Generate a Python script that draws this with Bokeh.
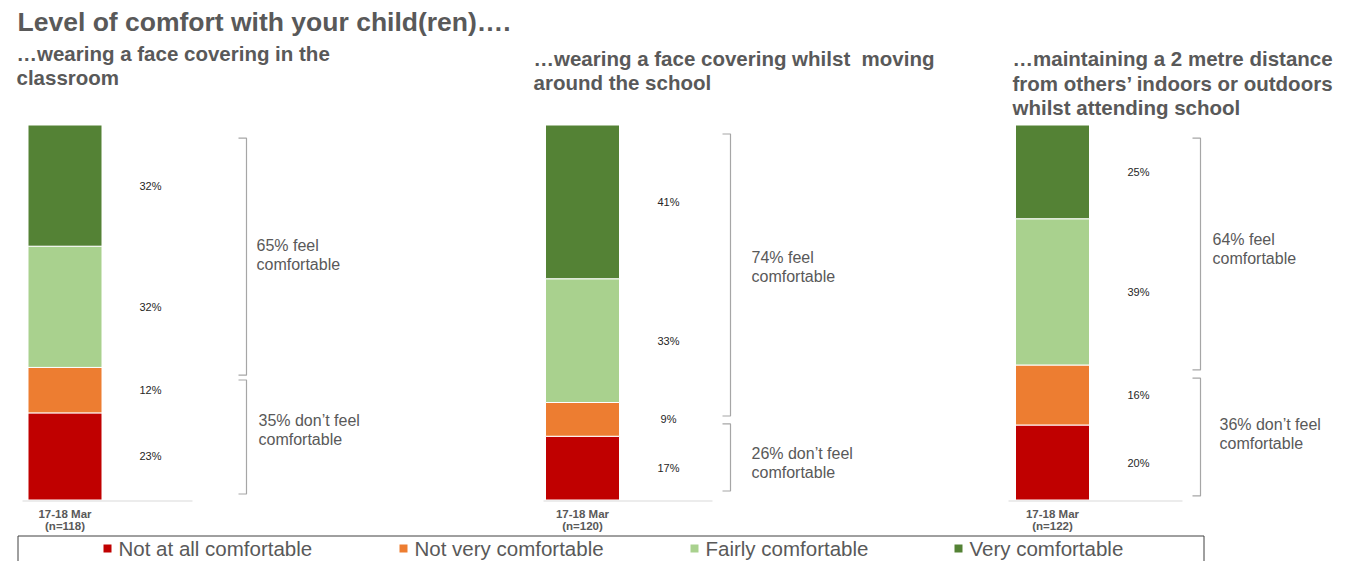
from bokeh.plotting import figure
from bokeh.models import ColumnDataSource, Range1d
from bokeh.core.properties import value
from bokeh.embed import file_html
from bokeh.resources import INLINE

# ---------------- data ----------------
title = "Level of comfort with your child(ren)…."
categories = ["Not at all comfortable", "Not very comfortable",
              "Fairly comfortable", "Very comfortable"]
panel_titles = [
    ["…wearing a face covering in the", "classroom"],
    ["…wearing a face covering whilst\u00a0 moving", "around the school"],
    ["…maintaining a 2 metre distance", "from others’ indoors or outdoors",
     "whilst attending school"],
]
not_at_all = [23, 17, 20]
not_very = [12, 9, 16]
fairly = [32, 33, 39]
very = [32, 41, 25]
wave_label = "17-18 Mar"
base_labels = ["(n=118)", "(n=120)", "(n=122)"]
comfortable_text = [["65% feel", "comfortable"], ["74% feel", "comfortable"],
                    ["64% feel", "comfortable"]]
uncomfortable_text = [["35% don’t feel", "comfortable"], ["26% don’t feel", "comfortable"],
                      ["36% don’t feel", "comfortable"]]

# ---------------- styles / layout ----------------
colors = ["#C00000", "#ED7D31", "#A9D18E", "#548235"]
GREY = "#595959"
FONT = "Liberation Sans"
PX = 3.75          # pixels per percentage point
BASE = 499.5       # pixel y of the bar baseline (from top)


def Y(img_y):
    return (BASE - img_y) / PX


bar_x = [64.5, 582, 1052]
label_x = [150, 668, 1138]
bracket_x = [246, 730, 1200]
axis_span = [(22, 192), (543, 712), (1008, 1182)]
title_x = [16, 533, 1012]
title_img_y = [[53, 77], [58, 82], [58, 83, 107]]
upper_bracket = [(96.5, 33.3), (97.6, 22.4), (96.5, 34.7)]
lower_bracket = [(32.0, 1.6), (20.3, 2.4), (32.5, 1.1)]
upper_text_pos = [(256, 245), (751, 257), (1212, 239)]
lower_text_pos = [(258, 420), (751, 453), (1219, 424)]
legend_sq_x = [107, 403, 694, 958]
LEG_Y = 548
LEG_TOP = 535.5

W, H = 1338, 561
p = figure(width=W, height=H, output_backend="svg", toolbar_location=None,
           x_range=Range1d(0, W), y_range=Range1d(Y(H), Y(0)),
           x_axis_location=None, y_axis_location=None, min_border=0)
p.grid.visible = False
p.outline_line_color = None
p.background_fill_color = "white"

# ---------------- bars ----------------
series = [not_at_all, not_very, fairly, very]
totals = [sum(s[i] for s in series) for i in range(3)]
data = {"x": bar_x}
for cat, s in zip(categories, series):
    data[cat] = [v / t * 100 for v, t in zip(s, totals)]
src = ColumnDataSource(data)
p.vbar_stack(categories, x="x", width=74, color=colors, source=src,
             line_color="white", line_width=1)

# value labels
lx, ly, lt = [], [], []
for i in range(3):
    cum = 0
    for s in series:
        h = s[i] / totals[i] * 100
        lx.append(label_x[i])
        ly.append(cum + h / 2)
        lt.append(f"{s[i]}%")
        cum += h
p.text(lx, ly, text=lt, text_font=value(FONT), text_font_size=value("11px"),
       text_color="#262626", text_align="center", text_baseline="middle")

# axis lines and category labels
for i in range(3):
    a, b = axis_span[i]
    p.line([a, b], [Y(500.5), Y(500.5)], line_color="#D9D9D9", line_width=1)
p.text(bar_x, [Y(513)] * 3, text=[wave_label] * 3, text_font=value(FONT),
       text_font_size=value("11.5px"), text_font_style="bold", text_color=GREY,
       text_align="center", text_baseline="middle")
p.text(bar_x, [Y(525)] * 3, text=base_labels, text_font=value(FONT),
       text_font_size=value("11.5px"), text_font_style="bold", text_color=GREY,
       text_align="center", text_baseline="middle")

# brackets
bxs, bys = [], []
for i in range(3):
    for top, bot in (upper_bracket[i], lower_bracket[i]):
        x = bracket_x[i]
        bxs.append([x - 8, x, x, x - 8])
        bys.append([top, top, bot, bot])
p.multi_line(bxs, bys, line_color="#A6A6A6", line_width=1.2)

# bracket texts
tx, ty, tt = [], [], []
for i in range(3):
    for (x0, y0), lines in ((upper_text_pos[i], comfortable_text[i]),
                            (lower_text_pos[i], uncomfortable_text[i])):
        for k, line in enumerate(lines):
            tx.append(x0)
            ty.append(Y(y0 + 19 * k))
            tt.append(line)
p.text(tx, ty, text=tt, text_font=value(FONT), text_font_size=value("16px"),
       text_color=GREY, text_align="left", text_baseline="middle")

# titles
p.text([17], [Y(21)], text=[title], text_font=value(FONT),
       text_font_size=value("26.5px"), text_font_style="bold", text_color=GREY,
       text_align="left", text_baseline="middle")
sx, sy, st = [], [], []
for i in range(3):
    for line, yy in zip(panel_titles[i], title_img_y[i]):
        sx.append(title_x[i])
        sy.append(Y(yy))
        st.append(line)
p.text(sx, sy, text=st, text_font=value(FONT), text_font_size=value("20.5px"),
       text_font_style="bold", text_color=GREY, text_align="left",
       text_baseline="middle")

# legend
p.quad(left=[17.5], right=[1203.5], top=[Y(LEG_TOP)], bottom=[Y(620)],
       fill_color=None, line_color="#404040", line_width=1)
p.rect(legend_sq_x, [Y(LEG_Y)] * 4, width=8, height=8 / PX, fill_color=colors,
       line_color=None)
p.text([x + 11 for x in legend_sq_x], [Y(LEG_Y)] * 4, text=categories,
       text_font=value(FONT), text_font_size=value("20.5px"), text_color=GREY,
       text_align="left", text_baseline="middle")

open("out.html", "w").write(file_html(p, INLINE))
